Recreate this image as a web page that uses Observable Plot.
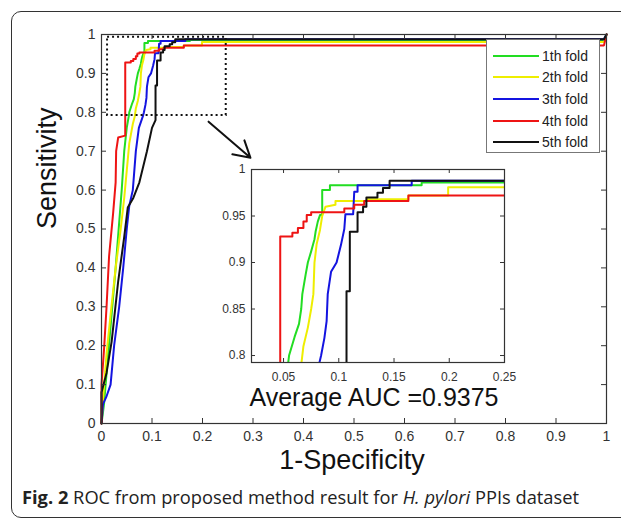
<!DOCTYPE html>
<html><head><meta charset="utf-8">
<script src="https://cdn.jsdelivr.net/npm/d3@7"></script>
<script src="https://cdn.jsdelivr.net/npm/@observablehq/plot@0.6"></script>
<style>
body{margin:0;background:#fff;}
#wrap{position:relative;width:621px;height:520px;overflow:hidden;background:#fff;font-family:"Liberation Sans",Arial,sans-serif;}
#frame{position:absolute;left:11px;top:11px;width:640px;height:507px;border:1.5px solid #333;border-radius:10px;box-sizing:border-box;}
#main{position:absolute;left:0;top:0;}
#inset{position:absolute;left:211px;top:159px;}
#legend{position:absolute;left:486px;top:39px;width:114px;height:114px;border:1px solid #777;background:#fff;box-sizing:border-box;padding-top:5px;}
.lrow{display:flex;align-items:center;height:21.6px;font-size:14px;color:#222;}
.lrow svg{margin-left:6px;margin-right:3px;}
#caption{position:absolute;left:22px;top:484px;font-family:"Open Sans",sans-serif;font-size:18.3px;color:#222;white-space:nowrap;}
</style></head>
<body><div id="wrap"><div id="frame"></div><div id="main"></div><div id="inset"></div><div id="legend"></div>
<div id="caption"><b>Fig. 2</b> ROC from proposed method result for <i>H. pylori</i> PPIs dataset</div></div>
<script>
const folds = ["1th fold","2th fold","3th fold","4th fold","5th fold"];
const foldColors = ["#22dd22","#eeee00","#1414e0","#ee1414","#111111"];

const fold1FPR = [0,0.005,0.012,0.02,0.028,0.034,0.04,0.045,0.05,0.054,0.055,0.06,0.064,0.066,0.067,0.07,0.072,0.075,0.078,0.079,0.081,0.083,0.085,0.085,0.092,0.092,0.175,0.175,0.995,1];
const fold1TPR = [0,0.05,0.16,0.28,0.4,0.5,0.6,0.7,0.76,0.79,0.8,0.82,0.834,0.85,0.866,0.887,0.9,0.912,0.925,0.933,0.944,0.951,0.951,0.978,0.978,0.983,0.983,0.986,0.986,1];

const fold2FPR = [0,0.004,0.01,0.018,0.028,0.038,0.045,0.05,0.055,0.062,0.066,0.068,0.072,0.075,0.077,0.078,0.08,0.083,0.085,0.088,0.097,0.097,0.126,0.126,0.163,0.163,0.199,0.199,0.995,1];
const fold2TPR = [0,0.08,0.18,0.28,0.4,0.5,0.58,0.65,0.72,0.77,0.79,0.81,0.83,0.85,0.866,0.9,0.92,0.935,0.95,0.96,0.962,0.966,0.966,0.968,0.968,0.972,0.972,0.981,0.981,1];

const fold3FPR = [0,0.003,0.01,0.018,0.025,0.035,0.043,0.05,0.055,0.062,0.068,0.074,0.082,0.084,0.087,0.089,0.09,0.093,0.098,0.102,0.105,0.106,0.113,0.114,0.117,0.117,0.166,0.166,0.995,1];
const fold3TPR = [0,0.05,0.07,0.1,0.2,0.3,0.4,0.5,0.56,0.6,0.7,0.76,0.79,0.8,0.819,0.837,0.866,0.89,0.9,0.919,0.936,0.952,0.952,0.976,0.976,0.983,0.983,0.988,0.988,1];

const fold4FPR = [0,0,0.005,0.01,0.015,0.023,0.028,0.029,0.033,0.047,0.047,0.058,0.058,0.063,0.063,0.068,0.068,0.071,0.071,0.075,0.075,0.105,0.105,0.114,0.114,0.123,0.123,0.163,0.163,0.995,1];
const fold4TPR = [0,0.1,0.19,0.3,0.43,0.54,0.62,0.7,0.735,0.74,0.928,0.928,0.932,0.932,0.937,0.937,0.944,0.944,0.951,0.951,0.954,0.954,0.958,0.958,0.962,0.962,0.966,0.966,0.972,0.972,1];

const fold5FPR = [0,0,0.01,0.02,0.033,0.045,0.052,0.063,0.075,0.09,0.1,0.107,0.107,0.11,0.11,0.117,0.117,0.122,0.122,0.125,0.125,0.135,0.135,0.14,0.14,0.146,0.146,0.995,1];
const fold5TPR = [0,0.08,0.13,0.21,0.365,0.48,0.555,0.58,0.62,0.7,0.76,0.78,0.869,0.869,0.933,0.933,0.954,0.954,0.96,0.96,0.97,0.97,0.975,0.975,0.98,0.98,0.988,0.988,1];

const xTicks = [0,0.1,0.2,0.3,0.4,0.5,0.6,0.7,0.8,0.9,1];
const yTicks = [0,0.1,0.2,0.3,0.4,0.5,0.6,0.7,0.8,0.9,1];
const insetXDomain = [0.021,0.25];
const insetYDomain = [0.7925,1];
const insetXTicks = [0.05,0.1,0.15,0.2,0.25];
const insetYTicks = [0.8,0.85,0.9,0.95,1];
const zoomBox = [{x1:0.012,x2:0.247,y1:0.792,y2:0.993}];
const zoomArrow = [{x1:0.212,y1:0.776,x2:0.295,y2:0.683}];
const xLabel = "1-Specificity";
const yLabel = "Sensitivity";
const aucLabel = "Average AUC =0.9375";

const fprs = [fold1FPR,fold2FPR,fold3FPR,fold4FPR,fold5FPR];
const tprs = [fold1TPR,fold2TPR,fold3TPR,fold4TPR,fold5TPR];
const rows = [];
folds.forEach((f,i)=>fprs[i].forEach((x,j)=>rows.push({fold:f,fpr:x,tpr:tprs[i][j]})));

const fmt = d => String(+d.toFixed(2));
const font = "'Liberation Sans', Arial, sans-serif";

// main plot geometry
const W = 621, H = 460, mL = 101, mR = 15, mT = 34, mB = 37;
const pH = H - mT - mB, pW = W - mL - mR;
const main = Plot.plot({
  width: W, height: H, marginLeft: mL, marginRight: mR, marginTop: mT, marginBottom: mB,
  x: {domain: [0,1]}, y: {domain: [0,1]},
  color: {domain: folds, range: foldColors},
  style: {fontFamily: font, background: "transparent", color: "#333", overflow: "visible"},
  marks: [
    Plot.line(rows, {x: "fpr", y: "tpr", z: "fold", stroke: "fold", strokeWidth: 2}),
    Plot.rect(zoomBox, {x1: "x1", x2: "x2", y1: "y1", y2: "y2", fill: "none", stroke: "#111", strokeWidth: 2, strokeDasharray: "2,3"}),
    Plot.arrow(zoomArrow, {x1: "x1", y1: "y1", x2: "x2", y2: "y2", stroke: "#111", strokeWidth: 2, headLength: 14}),
    Plot.frame({stroke: "#333", strokeWidth: 1.2}),
    Plot.tickX(xTicks, {x: d => d, insetTop: pH - 5, stroke: "#333"}),
    Plot.tickX(xTicks, {x: d => d, insetBottom: pH - 5, stroke: "#333"}),
    Plot.tickY(yTicks, {y: d => d, insetRight: pW - 5, stroke: "#333"}),
    Plot.tickY(yTicks, {y: d => d, insetLeft: pW - 5, stroke: "#333"}),
    Plot.axisX({ticks: xTicks, tickSize: 0, tickPadding: 8, tickFormat: fmt, fontSize: 14, label: null}),
    Plot.axisY({ticks: yTicks, tickSize: 0, tickPadding: 6, tickFormat: fmt, fontSize: 14, label: null}),
    Plot.text([yLabel], {frameAnchor: "left", dx: -54, rotate: -90, fontSize: 27, fill: "#111"}),
    Plot.text([xLabel], {frameAnchor: "bottom", dx: -2, dy: 45, fontSize: 27, fill: "#111"}),
    Plot.text([aucLabel], {frameAnchor: "bottom", dx: 20, dy: -18, fontSize: 25, fill: "#111"})
  ]
});
document.getElementById("main").append(main);

// inset
const iL = 40, iT = 10, iR = 10, iB = 25, iW = 253, iH = 193;
const inset = Plot.plot({
  width: iL + iW + iR, height: iT + iH + iB, marginLeft: iL, marginRight: iR, marginTop: iT, marginBottom: iB,
  x: {domain: insetXDomain}, y: {domain: insetYDomain},
  color: {domain: folds, range: foldColors},
  style: {fontFamily: font, background: "transparent", color: "#333", overflow: "visible"},
  marks: [
    Plot.frame({fill: "white"}),
    Plot.line(rows, {x: "fpr", y: "tpr", z: "fold", stroke: "fold", strokeWidth: 2, clip: true}),
    Plot.frame({stroke: "#333", strokeWidth: 1.2}),
    Plot.tickX(insetXTicks, {x: d => d, insetTop: iH - 4, stroke: "#333"}),
    Plot.tickX(insetXTicks, {x: d => d, insetBottom: iH - 4, stroke: "#333"}),
    Plot.tickY(insetYTicks, {y: d => d, insetRight: iW - 4, stroke: "#333"}),
    Plot.tickY(insetYTicks, {y: d => d, insetLeft: iW - 4, stroke: "#333"}),
    Plot.axisX({ticks: insetXTicks, tickSize: 0, tickPadding: 10, tickFormat: fmt, fontSize: 12, label: null}),
    Plot.axisY({ticks: insetYTicks, tickSize: 0, tickPadding: 6, tickFormat: fmt, fontSize: 12, label: null})
  ]
});
document.getElementById("inset").append(inset);

// legend
const leg = document.getElementById("legend");
folds.forEach((f,i) => {
  const r = document.createElement("div");
  r.className = "lrow";
  r.innerHTML = `<svg width="46" height="4"><line x1="0" y1="2" x2="46" y2="2" stroke="${foldColors[i]}" stroke-width="2"/></svg><span>${f}</span>`;
  leg.append(r);
});
</script></body></html>
